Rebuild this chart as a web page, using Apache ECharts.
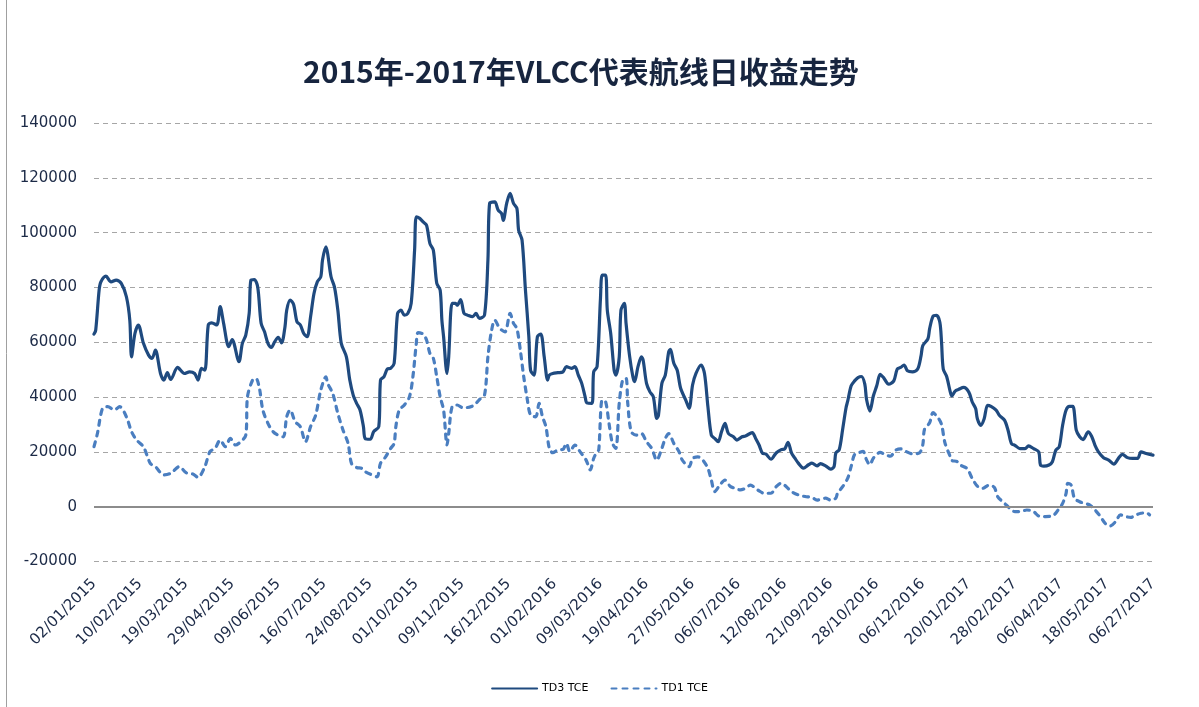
<!DOCTYPE html>
<html>
<head>
<meta charset="utf-8">
<script src="https://cdn.jsdelivr.net/npm/echarts@6/dist/echarts.min.js"></script>
<style>html,body{margin:0;padding:0;background:#fff;}#c{width:1199px;height:707px;}</style>
</head>
<body>
<div id="c"></div>
<script>
// x = business-day index counted from 02/01/2015; a tick label every 27 business days
const tickLabels = ['02/01/2015','10/02/2015','19/03/2015','29/04/2015','09/06/2015','16/07/2015','24/08/2015','01/10/2015','09/11/2015','16/12/2015','01/02/2016','09/03/2016','19/04/2016','27/05/2016','06/07/2016','12/08/2016','21/09/2016','28/10/2016','06/12/2016','20/01/2017','28/02/2017','06/04/2017','18/05/2017','06/27/2017'];
const daysPerTick = 27;
const seriesNames = ['TD3 TCE', 'TD1 TCE'];

const td3Days = [0,1,3,4,7,10,13,16,19,21,22,24,26,29,32,34,36,39,41,43,45,49,53,56,59,61,63,65,67,69,72,74,76,79,81,85,87,89,91,92,94,96,98,100,102,104,106,108,110,112,113,115,117,119,121,123,125,127,129,131,133,134,136,137,139,141,143,145,148,150,152,154,156,158,159,162,164,167,168,170,172,174,176,178,180,182,184,186,188,189,191,193,195,197,199,201,203,204,205,207,208,210,212,213,215,217,219,222,224,226,229,231,232,235,237,239,240,242,244,246,248,249,251,253,255,256,258,260,262,264,266,267,269,272,275,277,280,282,284,286,288,289,292,293,295,297,298,300,301,303,305,306,308,309,311,312,314,316,317,319,321,322,324,326,328,330,331,333,335,337,338,340,342,344,347,349,351,353,356,358,360,362,364,366,368,370,372,375,377,380,382,386,388,390,392,394,397,400,403,405,407,409,411,413,416,419,421,424,426,429,432,434,435,437,439,441,442,444,446,448,450,452,453,455,457,459,461,463,466,469,471,473,475,477,480,483,485,486,489,490,492,494,496,497,498,500,502,503,505,507,510,513,515,517,518,520,522,524,526,529,531,534,536,538,540,543,546,548,551,554,555,557,560,562,564,566,568,570,572,574,576,578,580,583,585,587,589,592,595,598,601,603,606,609,612,614,617,621];
const td3Values = [63000,64400,79000,82000,84100,82000,82700,81500,76600,68000,54700,63200,66300,59600,55300,54100,57100,48600,46200,48900,46400,50800,48600,49200,48600,46200,50500,49800,66300,67100,66300,73000,66900,58400,61000,52900,59600,62600,70500,82700,82900,80200,66900,63800,59600,58100,60200,61800,59800,65700,71700,75400,73900,67500,66300,63200,62000,69300,77800,82100,83900,90000,94800,92400,83900,80200,71700,59600,54700,46200,40700,37700,35300,29200,24900,24600,27400,29200,46200,47400,50200,50500,52300,70500,71700,69900,70500,74200,93600,105800,105200,103900,102700,96000,93600,81500,79000,68100,62000,48600,54700,74200,74200,73500,75600,70500,69900,69300,70500,68700,69900,90000,110700,111200,108200,107000,104500,110700,114300,110700,108800,100900,97300,79000,62000,49800,48000,62000,63000,54700,46200,48000,48600,48900,49200,51100,50500,51100,48000,45000,40100,37900,37700,49200,51100,76000,84500,84500,71700,63200,49800,48000,54700,71700,74200,66900,55300,47400,45600,51100,54700,53500,45000,41900,40100,32200,33400,45000,48000,56500,57400,52300,49800,43200,38900,35900,44400,48600,51700,48600,36500,26100,24900,23700,27400,30400,26700,25500,24300,25500,25800,27000,24900,22500,19500,19200,17300,19600,20800,21100,23500,19600,17700,15900,14100,15300,15900,14900,15700,14900,13700,14700,19600,20800,28200,36100,38600,44100,45900,47100,47500,44700,39200,34900,40400,44100,48300,47100,44700,45900,50200,50800,51700,49600,49200,50200,55100,58800,61200,64900,69500,69800,67300,60000,50200,47500,42200,40400,42200,42800,43500,41800,38200,35800,32100,29700,32100,37000,36600,35200,33300,31500,27900,23000,22400,21200,21200,22200,21200,20000,15200,14800,15200,16400,20600,21800,29700,35200,36600,36600,27900,25500,24500,27300,25700,22400,20000,17900,17000,15500,17900,19100,17900,17600,17600,20000,19400,18800];

const td1Days = [0,2,5,8,12,15,19,22,25,29,33,36,41,45,50,54,58,61,65,68,71,74,77,80,83,86,89,90,93,95,97,99,102,105,108,111,113,115,118,121,124,127,130,133,136,137,140,143,146,149,151,154,157,159,163,166,168,171,174,176,177,179,182,185,187,189,190,193,195,197,199,201,203,205,207,208,210,213,216,219,223,226,229,231,233,235,238,241,244,246,248,250,252,254,256,259,261,263,265,267,269,272,275,277,279,282,285,288,289,291,293,295,296,298,300,302,304,306,308,310,312,313,315,318,321,324,327,330,333,335,337,340,343,345,349,351,354,357,360,362,364,367,370,373,376,379,382,385,388,390,393,397,400,403,406,409,413,417,421,424,429,432,435,436,439,442,444,446,449,451,453,455,457,461,464,467,470,473,476,480,484,486,487,490,492,495,497,499,502,503,506,508,512,515,518,521,525,528,530,534,537,540,543,547,551,554,558,562,565,568,570,571,573,575,578,581,584,587,590,593,596,599,602,605,608,611,614,617,619];
const td1Values = [21900,26700,35900,36500,35300,36500,32800,27400,24300,21900,15800,14600,11600,12200,14600,12400,11900,10700,14600,20100,21300,24300,21900,24900,22500,23700,26100,40100,46200,46800,43200,35300,30400,27400,26100,25500,32800,35300,31000,29200,23700,29200,33400,42600,47400,45000,41300,34000,28000,23100,15800,14300,14000,12800,11600,10900,15800,18200,21300,23100,29200,35300,37100,40100,47400,59600,63500,63000,60800,55900,54100,47400,40100,35300,22500,26700,36500,37100,36200,36200,37100,39100,40700,54700,63800,68100,65000,63800,70500,66900,65000,57100,47400,39500,33400,32800,37700,32800,29200,21300,19700,20700,20900,23100,20100,22500,20100,17600,16400,13400,17600,20100,20700,38900,38300,30400,23100,21300,37700,46200,46800,37700,27400,26100,26700,23700,21300,17000,21300,24900,26700,23100,20100,17000,14600,17600,18200,17000,14000,9700,5500,7900,9700,7500,6700,6100,6700,7900,6700,5800,4900,4900,7300,8600,7300,5500,4300,3700,3400,2400,3100,2400,3100,4900,7300,10400,14700,19000,19800,20200,17100,15300,17700,19800,19000,18400,20600,21100,20200,19300,19600,22600,28200,30600,34300,32400,30000,23300,18400,16900,16500,15200,13900,10300,7500,6700,7900,7000,3600,1200,-600,-1800,-1800,-1200,-1800,-3400,-3600,-3400,-1500,1200,4800,8500,7900,3000,1800,1200,600,-1200,-3400,-6100,-7000,-5500,-3000,-3600,-3900,-3000,-2400,-2200,-3000];

const yMin = -20000, yMax = 140000, yStep = 20000;

const zip = (xs, ys) => xs.map((x, i) => [x, ys[i]]);

const chart = echarts.init(document.getElementById('c'), null, {renderer: 'canvas'});
const labelColor = '#1c2a47';
chart.setOption({
  backgroundColor: '#ffffff',
  animation: false,
  title: {
    text: '2015年-2017年VLCC代表航线日收益走势',
    left: 298, top: 52,
    textStyle: {fontFamily: '"Noto Sans CJK SC", "Noto Sans", sans-serif', fontWeight: 'bold', fontSize: 30, color: '#17253f'}
  },
  legend: {
    bottom: 8, left: 'center',
    itemWidth: 45, itemHeight: 10, itemGap: 22,
    itemStyle: {opacity: 0},
    textStyle: {fontFamily: '"DejaVu Sans", sans-serif', fontSize: 11, color: '#000'},
    data: seriesNames
  },
  grid: {left: 94, right: 46, top: 123, bottom: 145.5, containLabel: false},
  xAxis: {
    type: 'value', min: 0, max: (tickLabels.length - 1) * daysPerTick, interval: daysPerTick,
    axisLine: {show: false}, axisTick: {show: false}, splitLine: {show: false},
    axisLabel: {
      rotate: 45, margin: 20, showMinLabel: true, showMaxLabel: true,
      fontFamily: '"DejaVu Sans", sans-serif', fontSize: 15, color: labelColor,
      formatter: v => tickLabels[Math.round(v / daysPerTick)] || ''
    }
  },
  yAxis: {
    type: 'value', min: yMin, max: yMax, interval: yStep,
    axisLine: {show: false}, axisTick: {show: false},
    axisLabel: {margin: 17, fontFamily: '"DejaVu Sans", sans-serif', fontSize: 15, color: labelColor,
      formatter: v => String(v)},
    splitLine: {lineStyle: {color: '#a6a6a6', type: [5, 4], width: 1}}
  },
  series: [
    {
      name: seriesNames[0], type: 'line', data: zip(td3Days, td3Values),
      symbol: 'none', smooth: 0.3, z: 3,
      lineStyle: {color: '#1f4a7f', width: 3.2, cap: 'round', join: 'round'},
      itemStyle: {color: '#1f4a7f'},
      markLine: {
        silent: true, symbol: 'none', label: {show: false},
        lineStyle: {color: '#8c8c8c', type: 'solid', width: 2},
        data: [{yAxis: 0}]
      }
    },
    {
      name: seriesNames[1], type: 'line', data: zip(td1Days, td1Values),
      symbol: 'none', smooth: 0.3, z: 2,
      lineStyle: {color: '#4a7ec0', width: 3.2, type: [5, 6], cap: 'round', join: 'round'},
      itemStyle: {color: '#4a7ec0'}
    }
  ],
  graphic: [
    {type: 'line', shape: {x1: 6.5, y1: 0, x2: 6.5, y2: 707}, style: {stroke: '#a0a0a0', lineWidth: 1}, silent: true}
  ]
});
</script>
</body>
</html>
